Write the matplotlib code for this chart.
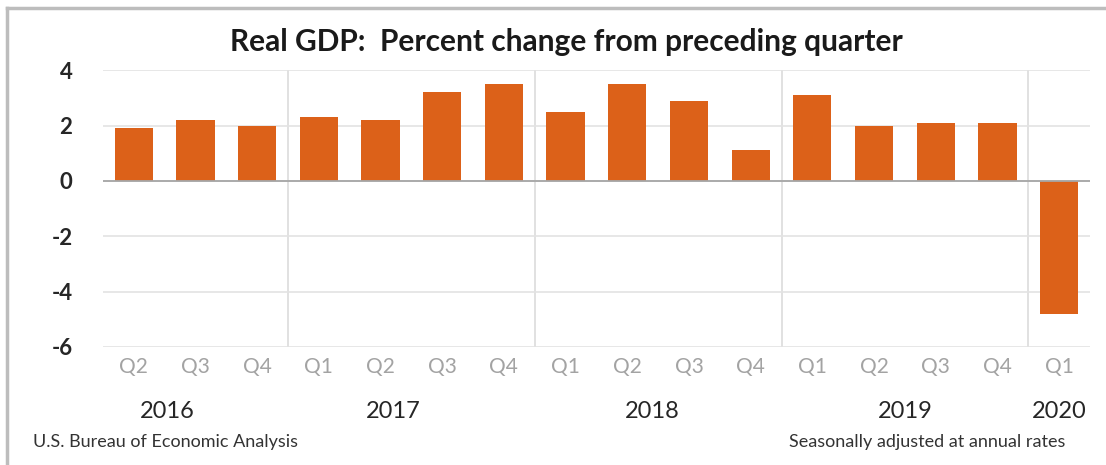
import matplotlib
matplotlib.use("Agg")
import matplotlib.pyplot as plt
from matplotlib.lines import Line2D

plt.rcParams["font.family"] = ["Lato", "DejaVu Sans"]

quarters = ["Q2", "Q3", "Q4", "Q1", "Q2", "Q3", "Q4", "Q1", "Q2", "Q3", "Q4",
            "Q1", "Q2", "Q3", "Q4", "Q1"]
gdp_change = [1.9, 2.2, 2.0, 2.3, 2.2, 3.2, 3.5, 2.5, 3.5, 2.9, 1.1,
              3.1, 2.0, 2.1, 2.1, -4.8]
years = ["2016", "2017", "2018", "2019", "2020"]
year_label_x = [0.55, 4.2, 8.4, 12.5, 15.0]
year_breaks = [2.5, 6.5, 10.5, 14.5]

bar_color = "#dc6119"

fig = plt.figure(figsize=(11.06, 4.65), dpi=100)
ax = fig.add_axes([0.0931, 0.2538, 0.8924, 0.5952])

x = list(range(len(gdp_change)))
ax.bar(x, gdp_change, width=0.62, color=bar_color, zorder=3)

ax.set_xlim(-0.5, len(gdp_change) - 0.5)
ax.set_ylim(-6, 4)
ax.set_yticks([-6, -4, -2, 0, 2, 4])
ax.set_yticklabels(["-6", "-4", "-2", "0", "2", "4"], fontsize=16,
                   fontweight="bold", color="#262626")
ax.grid(axis="y", color="#e3e3e3", linewidth=1.2, zorder=0)
ax.axhline(0, color="#a6a6a6", linewidth=1.3, zorder=4)
for b in year_breaks:
    ax.axvline(b, color="#dcdcdc", linewidth=1.2, zorder=1)

ax.set_xticks(x)
ax.set_xticklabels(quarters, fontsize=15, color="#a3a3a3")
ax.tick_params(axis="both", length=0)
ax.tick_params(axis="y", pad=22)
ax.tick_params(axis="x", pad=7)
for s in ax.spines.values():
    s.set_visible(False)

for yr, xp in zip(years, year_label_x):
    ax.text(xp, -0.233, yr, transform=ax.get_xaxis_transform(),
            ha="center", va="center", fontsize=17, color="#262626")

fig.text(0.512, 0.91, "Real GDP:  Percent change from preceding quarter",
         ha="center", va="center", fontsize=21.5, fontweight="bold", color="#1a1a1a")
fig.text(0.030, 0.050, "U.S. Bureau of Economic Analysis", ha="left", va="center",
         fontsize=13, color="#333333")
fig.text(0.963, 0.050, "Seasonally adjusted at annual rates", ha="right", va="center",
         fontsize=13, color="#333333")

# frame lines at top and left
fig.add_artist(Line2D([0.0063, 1.0], [0.983, 0.983], transform=fig.transFigure,
                      color="#bdbdbd", linewidth=2.5))
fig.add_artist(Line2D([0.0063, 0.0063], [0.0, 0.983], transform=fig.transFigure,
                      color="#bdbdbd", linewidth=2.5))

fig.savefig("out.png", dpi=100)
